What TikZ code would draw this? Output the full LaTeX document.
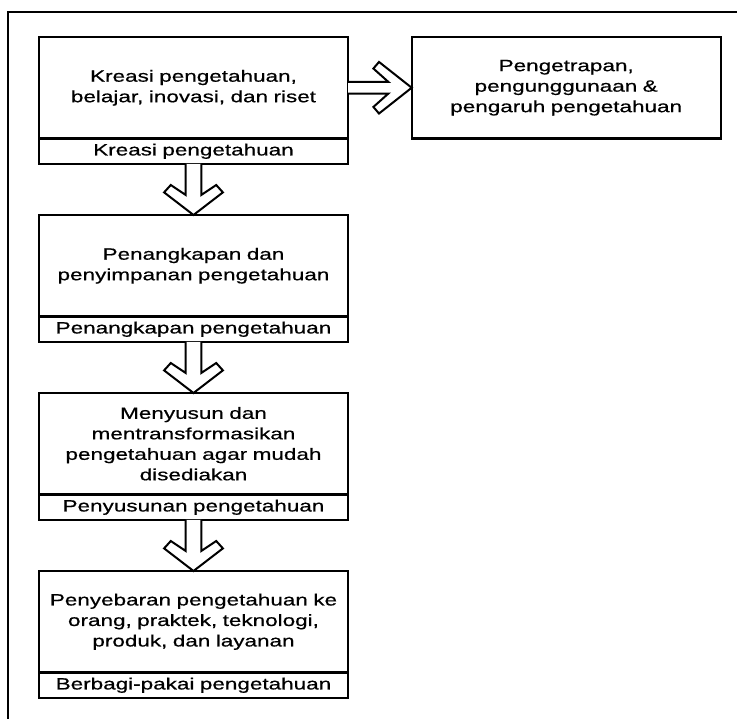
\documentclass[tikz,border=0pt]{standalone}
\usepackage{fontspec}
\setmainfont{Liberation Sans}[FakeStretch=1.38,FakeBold=0.6]
\usetikzlibrary{positioning,calc}

% hollow block arrow pointing down, from the caption of one box to the next box
\newcommand{\flowdown}[2]{%
  \draw[blockarrow] ($(#1.south)+(-7.8,0)$) -- ($(#2.north)+(-7.8,20)$)
    -- ($(#2.north)+(-22.7,30)$) -- ($(#2.north)+(-29.4,22.6)$) -- (#2.north)
    -- ($(#2.north)+(29.4,22.6)$) -- ($(#2.north)+(22.7,30)$)
    -- ($(#2.north)+(7.8,20)$) -- ($(#1.south)+(7.8,0)$);}

\begin{document}
\begin{tikzpicture}[x=1pt,y=1pt,node distance=51pt and 63.7pt,
    box/.style={draw,line width=2.4pt,outer sep=0pt,minimum width=309pt,
      minimum height=101.5pt,text width=300pt,align=center,
      font=\fontsize{16.3}{20.5}\selectfont},
    tag/.style={box,minimum height=25.5pt},
    blockarrow/.style={draw,fill=white,line width=2pt}]
  \useasboundingbox (0,0) rectangle (737,719);
  \draw[line width=2.7pt] (8,0) -- (8,707) -- (737,707);

  \node[box] (kreasi) at (193.5,631.25) {Kreasi pengetahuan,\\belajar, inovasi, dan riset};
  \node[tag] (kreasiT) [below=0pt of kreasi] {Kreasi pengetahuan};
  \node[box] (terap) [right=of kreasi] {Pengetrapan,\\pengunggunaan \&\\pengaruh pengetahuan};
  \node[box] (tangkap) [below=of kreasiT] {Penangkapan dan\\penyimpanan pengetahuan};
  \node[tag] (tangkapT) [below=0pt of tangkap] {Penangkapan pengetahuan};
  \node[box] (susun) [below=of tangkapT] {Menyusun dan\\mentransformasikan\\pengetahuan agar mudah\\disediakan};
  \node[tag] (susunT) [below=0pt of susun] {Penyusunan pengetahuan};
  \node[box] (sebar) [below=of susunT] {Penyebaran pengetahuan ke\\orang, praktek, teknologi,\\produk, dan layanan};
  \node[tag] (sebarT) [below=0pt of sebar] {Berbagi-pakai pengetahuan};

  \draw[blockarrow] ($(kreasi.east)+(0,5.8)$) -- ($(terap.west)+(-23.3,5.8)$)
    -- ($(terap.west)+(-38.3,19.2)$) -- ($(terap.west)+(-32.7,25.8)$) -- (terap.west)
    -- ($(terap.west)+(-32.7,-25.8)$) -- ($(terap.west)+(-38.3,-19.2)$)
    -- ($(terap.west)+(-23.3,-5.8)$) -- ($(kreasi.east)+(0,-5.8)$);
  \flowdown{kreasiT}{tangkap}
  \flowdown{tangkapT}{susun}
  \flowdown{susunT}{sebar}
\end{tikzpicture}
\end{document}
